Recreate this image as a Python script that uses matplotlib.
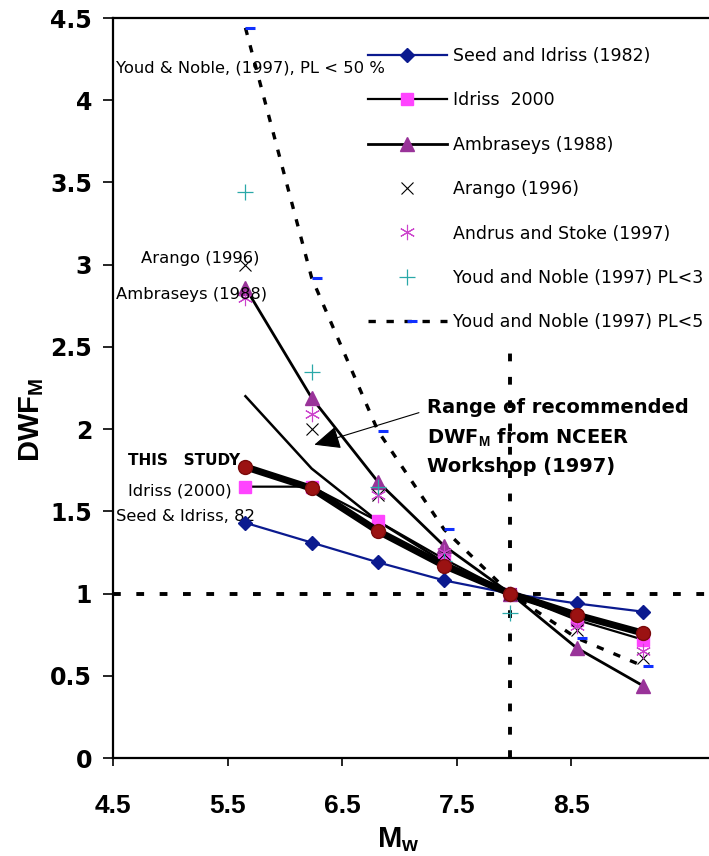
import numpy as np
import matplotlib
matplotlib.use('Agg')
import matplotlib.pyplot as plt
from matplotlib.path import Path

plt.rcParams['font.family'] = 'DejaVu Sans'
plt.rcParams['mathtext.fontset'] = 'custom'
plt.rcParams['mathtext.rm'] = 'Liberation Sans'
plt.rcParams['mathtext.bf'] = 'Liberation Sans:bold'

# magnitude values (x) and scaling factors
mw = [5.5, 6.0, 6.5, 7.0, 7.5, 8.0, 8.5]
seed_idriss_1982 = [1.43, 1.31, 1.19, 1.08, 1.00, 0.94, 0.89]
idriss_2000 = [1.65, 1.65, 1.44, 1.21, 1.00, 0.84, 0.72]
ambraseys_1988 = [2.86, 2.19, 1.68, 1.29, 1.00, 0.67, 0.44]
arango_1996 = [3.00, 2.00, 1.60, 1.24, 1.00, 0.78, 0.61]
andrus_stokoe_1997 = [2.80, 2.09, 1.60, 1.25, 1.00, 0.80, 0.65]
youd_noble_pl32 = [3.44, 2.35, 1.65, 1.20, 0.88]   # only 5.5 - 7.5
youd_noble_pl50 = [4.44, 2.92, 1.99, 1.39, 1.00, 0.73, 0.56]
this_study = [1.77, 1.64, 1.38, 1.17, 1.00, 0.87, 0.76]
nceer_lower = [2.20, 1.76, 1.44, 1.19, 1.00]      # only 5.5 - 7.5

ref_mw = 7.5
ref_dwf = 1.0
ref_top = 2.53

xtick_labels = ['4.5', '5.5', '6.5', '7.5', '8.5']
yticks = [0, 0.5, 1, 1.5, 2, 2.5, 3, 3.5, 4, 4.5]
ytick_labels = ['0', '0.5', '1', '1.5', '2', '2.5', '3', '3.5', '4', '4.5']

fig = plt.figure(figsize=(7.09, 8.56), dpi=100)
ax = fig.add_axes([113/709, 98/856, 596/709, 740/856])

# dash marker drawn to the right of the point (like the excel one)
dash_right = Path([(0, 0), (1, 0)], [Path.MOVETO, Path.LINETO])

# reference lines
ax.plot([4.5, 9.0], [ref_dwf, ref_dwf], color='black', lw=2.8, ls=(0, (2, 4)), zorder=1)
ax.plot([ref_mw, ref_mw], [0, ref_top], color='black', lw=2.8, ls=(0, (2, 4)), zorder=1)

ax.plot(mw[:5], nceer_lower, color='black', lw=1.8, zorder=2)

h_seed, = ax.plot(mw, seed_idriss_1982, color='#0b1a8f', lw=1.6, marker='D', ms=7,
                  mfc='#0b1a8f', mec='#0b1a8f', label='Seed and Idriss (1982)', zorder=4)
h_idr, = ax.plot(mw, idriss_2000, color='black', lw=1.6, marker='s', ms=8,
                 mfc='#ff44ff', mec='#ff44ff', label='Idriss  2000', zorder=3)
h_amb, = ax.plot(mw, ambraseys_1988, color='black', lw=2.0, marker='^', ms=10,
                 mfc='#993399', mec='#993399', label='Ambraseys (1988)', zorder=3)
h_ara, = ax.plot(mw, arango_1996, ls='none', marker='x', ms=9, mew=0.8,
                 color='black', label='Arango (1996)', zorder=3)
h_and, = ax.plot(mw, andrus_stokoe_1997, ls='none', marker=(6, 2, 0), ms=11, mew=0.8,
                 color='#cc44cc', label='Andrus and Stoke (1997)', zorder=3)
h_y32, = ax.plot(mw[:5], youd_noble_pl32, ls='none', marker='+', ms=11, mew=0.9,
                 color='#2aa8a8', label='Youd and Noble (1997) PL<3', zorder=3)
h_y50, = ax.plot(mw, youd_noble_pl50, color='black', lw=2.4, ls=(0, (2.2, 3.2)),
                 marker=dash_right, ms=15, mew=2.2, mec='#1030ff', mfc='none',
                 label='Youd and Noble (1997) PL<5', zorder=2)

# this study: thick black line with red dots
ax.plot(mw, this_study, color='black', lw=5, marker='o', ms=10,
        mfc='#9b1212', mec='#7a0a0a', zorder=5)

ax.set_xlim(4.5, 9.0)
ax.set_ylim(0, 4.5)
ax.set_xticks([4.5 + 0.865 * i for i in range(len(xtick_labels))])
ax.set_xticklabels(xtick_labels, fontfamily='Liberation Sans', fontweight='bold', fontsize=19)
ax.set_yticks(yticks)
ax.set_yticklabels(ytick_labels, fontweight='bold', fontsize=17)
ax.tick_params(axis='y', direction='out', length=7, width=1.2, pad=8)
ax.tick_params(axis='x', direction='out', length=6, width=1.2, pad=20)
for s in ['left', 'top', 'bottom']:
    ax.spines[s].set_linewidth(1.6)
ax.spines['right'].set_visible(False)

ax.set_xlabel(r'M$_\mathbf{w}$', fontfamily='Liberation Sans', fontweight='bold', fontsize=21)
ax.xaxis.set_label_coords((398 - 113) / 596, -0.091)
ax.set_ylabel(r'DWF$_\mathbf{M}$', fontfamily='Liberation Sans', fontweight='bold', fontsize=21)
ax.yaxis.set_label_coords(-0.112, (758 - 420) / 740)

# annotations
ax.text(4.523, 4.197, 'Youd & Noble, (1997), PL < 50 %', fontsize=11.8, va='center')
ax.text(4.71, 3.035, 'Arango (1996)', fontsize=11.8, va='center')
ax.text(4.523, 2.816, 'Ambraseys (1988)', fontsize=11.8, va='center')
ax.text(4.614, 1.807, 'THIS   STUDY', fontsize=11, fontweight='bold', va='center')
ax.text(4.614, 1.624, 'Idriss (2000)', fontsize=11.8, va='center')
ax.text(4.523, 1.466, 'Seed & Idriss, 82', fontsize=11.8, va='center', zorder=1)

ax.text(6.87, 2.19, 'Range of recommended\nDWF$_\\mathbf{M}$ from NCEER\nWorkshop (1997)',
        fontsize=14, fontweight='bold', va='top', linespacing=1.55)
ax.annotate('', xy=(6.0, 1.90), xytext=(6.83, 2.105),
            arrowprops=dict(arrowstyle='-|>,head_length=0.9,head_width=0.4',
                            mutation_scale=18, lw=0.8, color='black'))

ax.legend(handles=[h_seed, h_idr, h_amb, h_ara, h_and, h_y32, h_y50],
          loc='upper left', bbox_to_anchor=(368/709, (856-47)/856),
          bbox_transform=fig.transFigure, frameon=False, fontsize=12.5,
          handlelength=4.55, handletextpad=0.32, labelspacing=1.52,
          borderpad=0, borderaxespad=0, numpoints=1)

fig.savefig('out.png', dpi=100)
